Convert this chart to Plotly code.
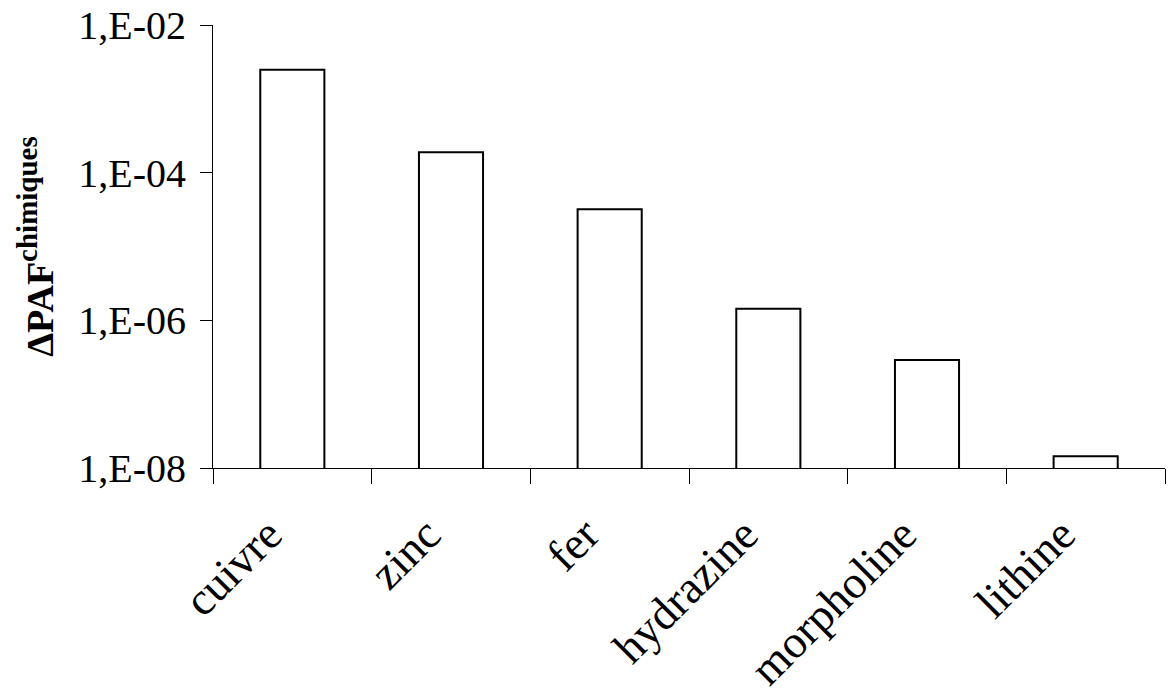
import plotly.graph_objects as go

# Potentially affected fraction per substance (log scale)
substances = ["cuivre", "zinc", "fer", "hydrazine", "morpholine", "lithine"]
delta_paf = [2.48e-3, 1.89e-4, 3.20e-5, 1.43e-6, 2.90e-7, 1.44e-8]

y_tick_values = [1e-8, 1e-6, 1e-4, 1e-2]
y_tick_labels = ["1,E-08", "1,E-06", "1,E-04", "1,E-02"]

serif = "Liberation Serif"

fig = go.Figure(
    go.Bar(
        x=substances,
        y=delta_paf,
        width=0.404,
        marker=dict(color="white", line=dict(color="black", width=2)),
        hoverinfo="x+y",
    )
)

fig.update_layout(
    width=1168,
    height=696,
    margin=dict(l=213, r=3, t=25, b=228),
    plot_bgcolor="white",
    paper_bgcolor="white",
    showlegend=False,
    font=dict(family=serif, color="black"),
)

fig.update_xaxes(
    type="category",
    range=[-0.5, 5.5],
    automargin=False,
    showline=True,
    linecolor="black",
    linewidth=1,
    showgrid=False,
    ticks="outside",
    tickson="boundaries",
    ticklen=15,
    tickcolor="black",
    tickangle=-45,
    tickfont=dict(family=serif, size=46, color="black"),
    ticklabelstandoff=20,
    ticklabelshift=-24,
)

fig.update_yaxes(
    type="log",
    range=[-8, -2],
    automargin=False,
    showline=True,
    linecolor="black",
    linewidth=1,
    showgrid=False,
    zeroline=False,
    ticks="outside",
    ticklen=12,
    tickcolor="black",
    tickvals=y_tick_values,
    ticktext=y_tick_labels,
    tickfont=dict(family=serif, size=40, color="black"),
    ticklabelstandoff=6,
    title=dict(
        text="<b>ΔPAF<sup><span style='font-size:29px'>chimiques</span></sup></b>",
        font=dict(family=serif, size=38, color="black"),
        standoff=12,
    ),
)

fig.write_html("out.html")
